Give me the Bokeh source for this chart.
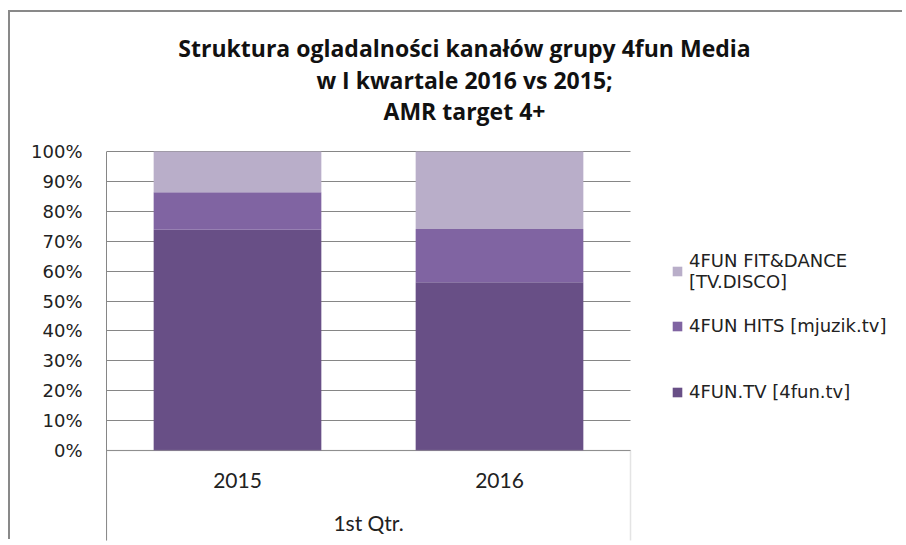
from bokeh.plotting import figure
from bokeh.models import (Range1d, FixedTicker, NumeralTickFormatter,
                          Legend, LegendItem, Label, BoxAnnotation, ColumnDataSource)
from bokeh.core.properties import value
from bokeh.embed import file_html
from bokeh.resources import INLINE

# ---- data ----
group = "1st Qtr."
years = ["2015", "2016"]
tv = [0.738, 0.563]        # 4FUN.TV [4fun.tv]
hits = [0.126, 0.178]      # 4FUN HITS [mjuzik.tv]
fit = [0.136, 0.259]       # 4FUN FIT&DANCE [TV.DISCO]
series_keys = ["tv", "hits", "fit"]
series_labels = ["4FUN.TV [4fun.tv]", "4FUN HITS [mjuzik.tv]", "4FUN FIT&DANCE\n[TV.DISCO]"]
series_colors = ["#684f86", "#8064a2", "#b9aec9"]
tick_values = [0.0, 0.1, 0.2, 0.3, 0.4, 0.5, 0.6, 0.7, 0.8, 0.9, 1.0]
title_lines = ["Struktura ogladalności kanałów grupy 4fun Media",
               "w I kwartale 2016 vs 2015;",
               "AMR target 4+"]

# ---- layout constants (pixels) ----
CANVAS_W, CANVAS_H = 894, 529
LEFT, BOTTOM = 96, 1
FRAME_W, FRAME_H = CANVAS_W - LEFT, CANVAS_H - BOTTOM
PX_PER_CAT = 262          # one category slot
PX_PER_UNIT = 299         # 0% -> 100%
ZERO_ABOVE_BOTTOM = 90    # 0% line above frame bottom

n = len(years)
xpos = [i + 0.5 for i in range(n)]
src = ColumnDataSource(data=dict(x=xpos, tv=tv, hits=hits, fit=fit))

y_start = -ZERO_ABOVE_BOTTOM / PX_PER_UNIT
y_end = y_start + FRAME_H / PX_PER_UNIT
GRAY = "#868686"

p = figure(x_range=Range1d(0, FRAME_W / PX_PER_CAT),
           y_range=Range1d(y_start, y_end),
           width=CANVAS_W, height=CANVAS_H,
           min_border_left=LEFT, min_border_right=0,
           min_border_top=0, min_border_bottom=BOTTOM,
           x_axis_location=None, title=None,
           output_backend="svg", toolbar_location=None,
           margin=(12, 0, 0, 10),
           styles={"box-shadow": "-2px -2px 0px 0px #898989", "overflow": "hidden"})
p.outline_line_color = None
p.background_fill_color = "white"
p.border_fill_color = "white"

renderers = p.vbar_stack(series_keys, x="x", width=0.64, source=src,
                         color=series_colors, line_color=None)

# y axis
ticker = FixedTicker(ticks=tick_values)
p.yaxis.ticker = ticker
p.yaxis.bounds = (y_start, 1.0)
p.yaxis.formatter = NumeralTickFormatter(format="0%")
p.yaxis.axis_line_color = GRAY
p.yaxis.axis_line_width = 1
p.yaxis.major_tick_line_color = None
p.yaxis.minor_tick_line_color = None
p.yaxis.major_tick_in = 0
p.yaxis.major_tick_out = 0
p.yaxis.major_label_standoff = 24
p.yaxis.major_label_text_font = "DejaVu Sans"
p.yaxis.major_label_text_font_size = "18px"
p.yaxis.major_label_text_color = "#222222"
p.ygrid.ticker = ticker
p.ygrid.grid_line_color = GRAY
p.ygrid.grid_line_width = 1
p.xgrid.grid_line_color = None

# plot area ends after the last category: hide gridlines beyond it
p.add_layout(BoxAnnotation(left=n, fill_color="white", fill_alpha=1,
                           line_color=None, level="glyph"))
# category box below the 0% line
p.add_layout(BoxAnnotation(left=0, right=n, top=0, bottom=y_start - 1, fill_alpha=0,
                           line_color="#a6a6a6", line_width=1.5))

# category labels
p.text(x=xpos, y=[-0.1] * n, text=years,
       text_font=value("Lato"), text_font_size="21px", text_color="#222222",
       text_align="center", text_baseline="middle")
p.text(x=[sum(xpos) / n], y=[-0.242], text=[group],
       text_font=value("Lato"), text_font_size="21px", text_color="#222222",
       text_align="center", text_baseline="middle")

# legend entries (Excel spaces them unevenly, so one legend per entry)
legend_pos = [(565, 138), (565, 204), (565, 248)]   # bottom-left, frame pixels
for r, lab, loc in zip(renderers, series_labels, legend_pos):
    lg = Legend(items=[LegendItem(label=lab, renderers=[r])],
                location=loc, padding=0, margin=0, spacing=0,
                border_line_color=None, background_fill_alpha=0,
                glyph_width=12, glyph_height=12, label_standoff=6,
                label_text_font="DejaVu Sans", label_text_font_size="18px",
                label_text_color="#222222")
    p.add_layout(lg)

# title lines
title_y = [493, 461, 430]   # frame pixels above bottom
for t, ty in zip(title_lines, title_y):
    p.add_layout(Label(x=358, y=ty, x_units="screen", y_units="screen", text=t,
                       text_align="center", text_baseline="middle",
                       text_font="Open Sans", text_font_style="bold",
                       text_font_size="23px", text_color="#111111"))

open("out.html", "w").write(file_html(p, INLINE))
